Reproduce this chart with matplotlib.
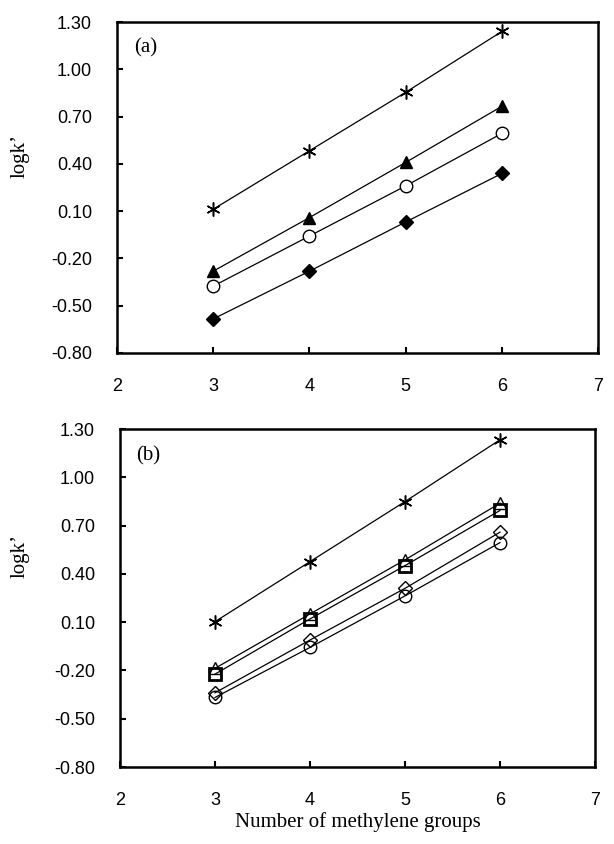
import matplotlib
matplotlib.use("Agg")
import matplotlib.pyplot as plt

x = [3, 4, 5, 6]

# Panel (a)
a_star = [0.112, 0.483, 0.854, 1.240]
a_tri = [-0.281, 0.059, 0.409, 0.765]
a_circ = [-0.376, -0.058, 0.260, 0.593]
a_diam = [-0.584, -0.281, 0.031, 0.339]

# Panel (b)
b_star = [0.103, 0.476, 0.849, 1.233]
b_tri = [-0.187, 0.151, 0.487, 0.839]
b_sq = [-0.223, 0.120, 0.451, 0.794]
b_diam = [-0.339, -0.011, 0.310, 0.659]
b_circ = [-0.368, -0.057, 0.263, 0.594]

yticks = [-0.80, -0.50, -0.20, 0.10, 0.40, 0.70, 1.00, 1.30]
xticks = [2, 3, 4, 5, 6, 7]

fig = plt.figure(figsize=(6.14, 8.44), dpi=100)
ax1 = fig.add_axes([0.1906, 0.5818, 0.7834, 0.3921])
ax2 = fig.add_axes([0.1954, 0.0912, 0.7736, 0.4005])

serif = "Liberation Serif"
sans = "Liberation Sans"
lw = 0.9
star = (6, 2, 0)

def style(ax, label, ly, lx):
    ax.set_xlim(2, 7)
    ax.set_ylim(-0.8, 1.3)
    ax.set_xticks(xticks)
    ax.set_yticks(yticks)
    ax.set_xticklabels([str(t) for t in xticks], fontfamily=sans, fontsize=13)
    ax.set_yticklabels([f"{t:.2f}" for t in yticks], fontfamily=sans, fontsize=13)
    ax.tick_params(direction="in", length=4, width=1.5, pad=18)
    for s in ax.spines.values():
        s.set_linewidth(1.8)
    ax.set_ylabel("logk’", fontfamily=serif, fontsize=15)
    ax.yaxis.set_label_coords(lx, ly)
    ax.text(0.035, 0.95, label, transform=ax.transAxes, fontfamily=serif,
            fontsize=15, va="top", ha="left")

kw = dict(color="black", linewidth=lw)
ax1.plot(x, a_star, marker=star, markersize=10, markeredgewidth=1.1, **kw)
ax1.plot(x, a_tri, marker="^", markersize=8, markerfacecolor="black", **kw)
ax1.plot(x, a_circ, marker="o", markersize=9, markerfacecolor="white", markeredgewidth=1.0, **kw)
ax1.plot(x, a_diam, marker="D", markersize=7.5, markerfacecolor="black", **kw)
style(ax1, "(a)", 0.595, -0.182)

ax2.plot(x, b_star, marker=star, markersize=10, markeredgewidth=1.1, **kw)
ax2.plot(x, b_tri, marker="^", markersize=9, markerfacecolor="none", markeredgewidth=1.0, **kw)
ax2.plot(x, b_sq, marker="s", markersize=8, markerfacecolor="none", markeredgewidth=2.0, **kw)
ax2.plot(x, b_diam, marker="D", markersize=7.5, markerfacecolor="none", markeredgewidth=1.0, **kw)
ax2.plot(x, b_circ, marker="o", markersize=9, markerfacecolor="none", markeredgewidth=1.0, **kw)
style(ax2, "(b)", 0.625, -0.19)
ax2.set_xlabel("Number of methylene groups", fontfamily=serif, fontsize=15, labelpad=2)

fig.savefig("out.png", dpi=100)
